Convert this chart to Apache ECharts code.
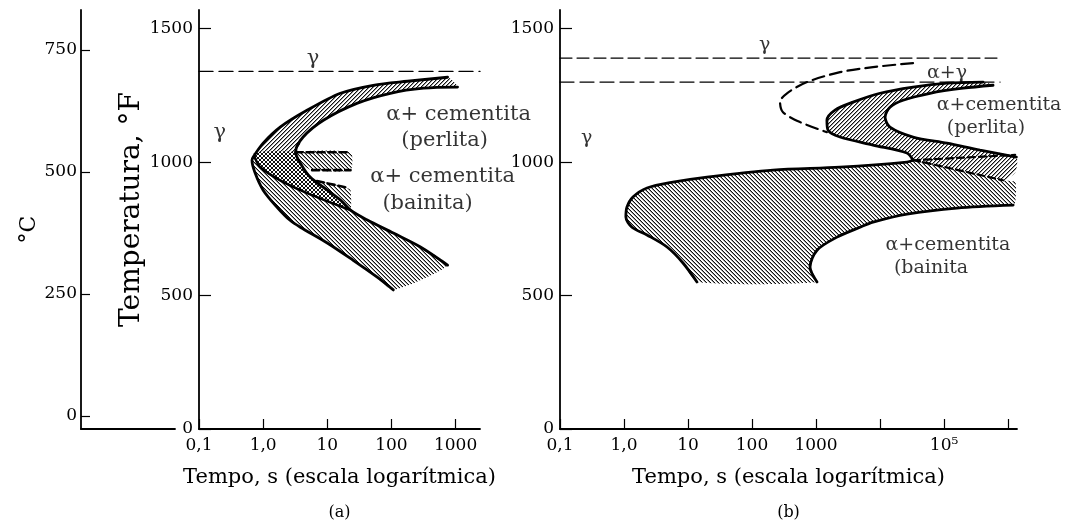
<!DOCTYPE html>
<html><head><meta charset="utf-8">
<script src="https://cdn.jsdelivr.net/npm/echarts@6/dist/echarts.min.js"></script>
<style>html,body{margin:0;padding:0;background:#fff}#c{width:1079px;height:527px}</style>
</head><body><div id="c"></div>
<script>
// ---------- tick values / labels ----------
const xTicksA = [0.1, 1, 10, 100, 1000];
const xTickLabelsA = ['0,1', '1,0', '10', '100', '1000'];
const xTicksB = [0.1, 1, 10, 100, 1000, 1e4, 1e5, 1e6];
const xTickLabelsB = ['0,1', '1,0', '10', '100', '1000', '', '10⁵', ''];
const fTicks = [0, 500, 1000, 1500];
const cTicks = [0, 250, 500, 750];

// ---------- panel (a): [tempo s, temperatura °F] ----------
const aEutectoidLine = [[0.1, 1340], [2400, 1340]];
const aStartCurve = [[750,1318],[178,1303],[52,1288],[16,1258],[4.9,1195],[1.84,1131],[1.0,1071],[0.70,1019],[0.67,1007],
  [0.75,959],[1.0,895],[1.65,831],[2.6,783],[3.8,756],[10,697],[25,633],[60,569],[107,521]];
const aFinishCurve = [[1072,1281],[316,1277],[96,1258],[29.5,1221],[8.7,1157],[4.2,1094],[3.2,1037],[3.8,996],[5.4,944],
  [10,895],[16,858],[23,820],[42,783],[107,734],[283,682],[750,614]];
const aCrossBottom = [[23,820],[4.87,884],[1.84,932],[0.90,981],[0.75,1015]];
const aCrossLeft = [[0.72,1037]];
const aDashTop = [[3.2,1037],[23,1037]];
const aDashMid = [[5.8,970],[23,970]];
const aDashLow = [[6.9,929],[19,906]];
const aDashRightEdge = [[23,895]];
const aNotes = [[6.0,1389,'γ'],[0.21,1112,'γ'],[1114,1180,'α+ cementita'],[675,1082,'(perlita)'],
  [627,947,'α+ cementita'],[365,846,'(bainita)']];

// ---------- panel (b) ----------
const bEutectoidLine = [[0.1, 1300], [7.5e5, 1300]];
const bUpperLine = [[0.1, 1390], [7.5e5, 1390]];
const bFerriteStart = [[32800,1371],[7760,1356],[2370,1337],[724,1300],[352,1258],[274,1225],[305,1187],[562,1150],[1480,1112]];
const bPearliteStart = [[407000,1300],[111000,1296],[32800,1281],[10000,1258],[3790,1225],[1980,1195],[1480,1157],[1540,1120],
  [2370,1094],[7760,1064],[26300,1034],[32800,1007]];
const bPearliteFinish = [[583000,1288],[198000,1277],[60300,1258],[22900,1232],[14300,1206],[12000,1168],[14300,1131],
  [32800,1094],[111000,1071],[365000,1045],[1.35e6,1019]];
const bDashUpper = [[32800,1007],[1.29e6,1027]];
const bDashLower = [[32800,1007],[46800,1000],[835000,932]];
const bPearliteRightEdge = [[1.3e6,962]];
const bBainiteStart = [[32800,1007],[26300,1000],[2370,981],[213,970],[19.8,944],[5.8,925],[2.29,903],[1.38,869],[1.11,831],
  [1.07,794],[1.33,756],[2.29,727],[4.7,682],[8.35,622],[13.8,551]];
const bBainiteFinish = [[1037,551],[806,607],[1037,670],[2130,719],[4870,756],[7760,775],[26300,805],[158500,828],[1.2e6,839]];
const bBainiteRightEdge = [[1.3e6,850],[1.3e6,925]];
const bNotes = [[158,1438,'γ'],[111000,1333,'α+γ'],[723000,1213,'α+cementita'],[453000,1127,'(perlita)'],[0.26,1090,'γ'],
  [115000,689,'α+cementita'],[62700,603,'(bainita']];

// ---------- helpers ----------
const FONT = 'DejaVu Serif';
function hatch(period, dir, bg) {
  const c = document.createElement('canvas');
  c.width = c.height = period;
  const g = c.getContext('2d');
  if (bg) { g.fillStyle = bg; g.fillRect(0, 0, period, period); }
  for (let i = 0; i < period; i++) {
    if (dir === '/') {
      g.fillStyle = '#9a9a9a'; g.fillRect(i, (period - i) % period, 1, 1);
      g.fillStyle = '#111'; g.fillRect(i, period - 1 - i, 1, 1);
    } else if (dir === '\\') {
      g.fillStyle = '#9a9a9a'; g.fillRect(i, (i + 1) % period, 1, 1);
      g.fillStyle = '#111'; g.fillRect(i, i, 1, 1);
    } else {
      g.fillStyle = '#111'; g.fillRect(i, period - 1 - i, 1, 1); g.fillRect(i, i, 1, 1);
    }
  }
  return { image: c, repeat: 'repeat' };
}
const pPearlA = hatch(4, '/', '#fff');
const pBainA = hatch(4, '\\', '#fff');
const pCross = hatch(4, 'x', '#fff');
const pPearlB = hatch(4, '/', '#fff');
const pBainB = hatch(4, '\\', '#fff');

function region(ax, pts, pattern, z) {
  return {
    type: 'custom', xAxisIndex: ax, yAxisIndex: ax, data: pts, encode: { x: 0, y: 1 },
    silent: true, animation: false, z: z || 1, clip: false,
    renderItem(params, api) {
      if (params.dataIndex !== 0) return null;
      return { type: 'polygon', shape: { points: pts.map(p => api.coord(p)), smooth: 0.2 },
        style: { fill: pattern, stroke: null } };
    }
  };
}
function curve(ax, pts, width, dash, smooth) {
  return {
    type: 'line', xAxisIndex: ax, yAxisIndex: ax, data: pts, showSymbol: false, symbol: 'none',
    smooth: smooth === undefined ? 0.3 : smooth, silent: true, animation: false, z: 4,
    lineStyle: { color: '#000', width: width, type: dash || 'solid', cap: 'round' }
  };
}
function notes(ax, items, size) {
  return {
    type: 'scatter', xAxisIndex: ax, yAxisIndex: ax, symbolSize: 1, silent: true, animation: false, z: 6,
    itemStyle: { color: 'rgba(0,0,0,0)' },
    data: items.map(d => ({ value: [d[0], d[1]], name: d[2] })),
    label: { show: true, position: 'inside', formatter: '{b}', color: '#000', fontFamily: FONT, fontSize: size }
  };
}
function logFormatter(ticks, labels) {
  return v => {
    for (let i = 0; i < ticks.length; i++) if (Math.abs(Math.log10(v) - Math.log10(ticks[i])) < 1e-6) return labels[i];
    return '';
  };
}
const plain = v => String(Math.round(v));
const axLine = { show: true, onZero: false, lineStyle: { color: '#000', width: 1.8 } };

// ---------- regions built from the arrays ----------
const aPearliteBand = aStartCurve.slice(0, 9).concat(aFinishCurve.slice(0, 7).reverse());
const aBainiteBand = aStartCurve.slice(8).concat(aFinishCurve.slice(11).reverse(), aCrossBottom.slice(1));
const aCrossRegion = aCrossLeft.concat(aFinishCurve.slice(6, 12), aCrossBottom.slice(1));
const aDashRegion1 = aDashTop.concat(aDashMid.slice().reverse(), [aFinishCurve[7]]);
const aDashRegion2 = aDashLow.concat(aDashRightEdge, aFinishCurve.slice(9, 12).reverse());
const bPearliteRegion = bPearliteStart.concat(bDashLower.slice(1), bPearliteRightEdge, bPearliteFinish.slice().reverse());
const bBainiteRegion = bBainiteStart.concat(bBainiteFinish, bBainiteRightEdge, bDashLower.slice().reverse());

const titleRich = { t: { fontFamily: FONT, fontSize: 21, color: '#000', lineHeight: 30 }, s: { fontFamily: FONT, fontSize: 16, color: '#000', lineHeight: 40 } };
const option = {
  backgroundColor: '#fff',
  animation: false,
  textStyle: { fontFamily: FONT },
  grid: [
    { left: 81, top: 10, width: 94, height: 419 },
    { left: 199, top: 10, width: 281, height: 419 },
    { left: 560, top: 10, width: 457, height: 419 }
  ],
  xAxis: [
    { gridIndex: 0, type: 'value', min: 0, max: 1, axisLine: axLine, axisTick: { show: false }, axisLabel: { show: false }, splitLine: { show: false } },
    { gridIndex: 1, type: 'log', logBase: 10, min: 0.1, max: 2400, axisLine: axLine, splitLine: { show: false },
      axisTick: { inside: true, length: 10, customValues: xTicksA, lineStyle: { color: '#000', width: 1.2 } },
      axisLabel: { customValues: xTicksA, formatter: logFormatter(xTicksA, xTickLabelsA), margin: 8, color: '#000', fontFamily: FONT, fontSize: 17 },
      name: '{t|Tempo, s (escala logarítmica)}\n{s|(a)}', nameLocation: 'middle', nameGap: 34,
      nameTextStyle: { rich: titleRich } },
    { gridIndex: 2, type: 'log', logBase: 10, min: 0.1, max: 1.38e6, axisLine: axLine, splitLine: { show: false },
      axisTick: { inside: true, length: 10, customValues: xTicksB, lineStyle: { color: '#000', width: 1.2 } },
      axisLabel: { customValues: xTicksB, formatter: logFormatter(xTicksB, xTickLabelsB), margin: 8, color: '#000', fontFamily: FONT, fontSize: 17 },
      name: '{t|Tempo, s (escala logarítmica)}\n{s|(b)}', nameLocation: 'middle', nameGap: 34,
      nameTextStyle: { rich: titleRich } }
  ],
  yAxis: [
    { gridIndex: 0, type: 'value', min: -27, max: 832, axisLine: axLine, splitLine: { show: false },
      axisTick: { inside: true, length: 9, customValues: cTicks, lineStyle: { color: '#000', width: 1.2 } },
      axisLabel: { customValues: cTicks, formatter: plain, margin: 4, color: '#000', fontFamily: FONT, fontSize: 17 },
      name: '°C', nameLocation: 'middle', nameRotate: 90, nameGap: 40,
      nameTextStyle: { fontFamily: FONT, fontSize: 22, color: '#000', padding: [0, 20, 0, 0] } },
    { gridIndex: 1, type: 'value', min: 0, max: 1570, axisLine: axLine, splitLine: { show: false },
      axisTick: { inside: true, length: 12, customValues: fTicks, lineStyle: { color: '#000', width: 1.2 } },
      axisLabel: { customValues: fTicks, formatter: plain, margin: 6, color: '#000', fontFamily: FONT, fontSize: 17 },
      name: 'Temperatura, °F', nameLocation: 'middle', nameRotate: 90, nameGap: 44,
      nameTextStyle: { fontFamily: FONT, fontSize: 28, color: '#000', padding: [0, 0, 0, 20] } },
    { gridIndex: 2, type: 'value', min: 0, max: 1570, axisLine: axLine, splitLine: { show: false },
      axisTick: { inside: true, length: 12, customValues: fTicks, lineStyle: { color: '#000', width: 1.2 } },
      axisLabel: { customValues: fTicks, formatter: plain, margin: 6, color: '#000', fontFamily: FONT, fontSize: 17 } }
  ],
  series: [
    // panel (a)
    region(1, aPearliteBand, pPearlA, 1),
    region(1, aBainiteBand, pBainA, 1),
    region(1, aDashRegion1, pBainA, 1),
    region(1, aDashRegion2, pBainA, 1),
    region(1, aCrossRegion, pCross, 2),
    curve(1, aEutectoidLine, 1.3, [14, 6], false),
    curve(1, aStartCurve, 2.8),
    curve(1, aFinishCurve, 2.8),
    curve(1, aCrossBottom, 2.6),
    curve(1, aDashTop, 2.6, [7, 4], false),
    curve(1, aDashMid, 2.6, [7, 4], false),
    curve(1, aDashLow, 2.6, [7, 4], false),
    notes(1, aNotes, 21),
    // panel (b)
    region(2, bPearliteRegion, pPearlB, 1),
    region(2, bBainiteRegion, pBainB, 1),
    curve(2, bUpperLine, 1.2, [12, 5], false),
    curve(2, bEutectoidLine, 1.3, [14, 6], false),
    curve(2, bFerriteStart, 2.2, [12, 6]),
    curve(2, bPearliteStart, 2.8),
    curve(2, bPearliteFinish, 2.8),
    curve(2, bBainiteStart, 2.8),
    curve(2, bBainiteFinish, 2.8),
    curve(2, bDashUpper, 2.2, [7, 4], false),
    curve(2, bDashLower, 2.2, [7, 4], false),
    notes(2, bNotes, 19)
  ]
};
const chart = echarts.init(document.getElementById('c'));
chart.setOption(option);
</script>
</body></html>
